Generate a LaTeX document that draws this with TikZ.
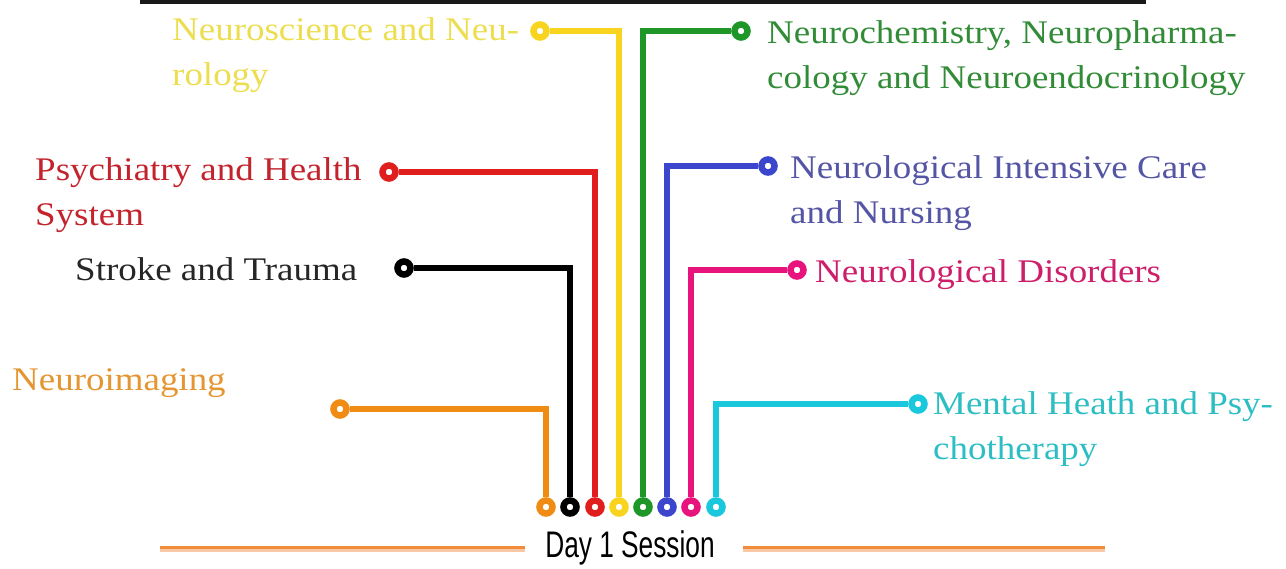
\documentclass[tikz,border=0pt]{standalone}
\usepackage{fontspec}
\setmainfont[FakeStretch=1.12]{Liberation Serif}
\newfontfamily\dayfont[FakeStretch=0.71]{Liberation Sans}
\usetikzlibrary{positioning}

\definecolor{orng}{RGB}{240,140,20}
\definecolor{ylw}{RGB}{248,212,30}
\definecolor{grn}{RGB}{30,150,40}
\definecolor{rd}{RGB}{225,30,30}
\definecolor{blu}{RGB}{60,70,205}
\definecolor{pnk}{RGB}{232,20,125}
\definecolor{cyn}{RGB}{25,200,220}
\definecolor{orngtxt}{RGB}{228,150,50}
\definecolor{ylwtxt}{RGB}{236,222,80}
\definecolor{grntxt}{RGB}{50,140,55}
\definecolor{rdtxt}{RGB}{195,35,45}
\definecolor{blutxt}{RGB}{85,85,165}
\definecolor{pnktxt}{RGB}{205,30,105}
\definecolor{cyntxt}{RGB}{45,190,195}
\definecolor{barup}{RGB}{240,140,60}
\definecolor{barlow}{RGB}{250,200,165}

\tikzset{
  pin/.style={circle,draw=#1,line width=6.5pt,fill=white,inner sep=0pt,minimum size=13pt},
  wire/.style={draw=#1,line width=6pt},
  lbl/.style={text=#1,font=\fontsize{33}{45}\selectfont,align=left,inner sep=0pt,anchor=base west},
}

\begin{document}
\begin{tikzpicture}[x=1pt,y=1pt,yscale=-1]
\useasboundingbox (0,0) rectangle (1286,569);

%top bar
\fill[black!90] (140,0) rectangle (1146,4);

%bottom pins
\node[pin=orng]  (b1) at (546,507) {};
\node[pin=black] (b2) at (570,507) {};
\node[pin=rd]    (b3) at (595,507) {};
\node[pin=ylw]   (b4) at (619,507) {};
\node[pin=grn]   (b5) at (643,507) {};
\node[pin=blu]   (b6) at (667,507) {};
\node[pin=pnk]   (b7) at (691,507) {};
\node[pin=cyn]   (b8) at (716,507) {};

%top pins
\node[pin=orng]  (t1) at (340,409) {};
\node[pin=black] (t2) at (404,268) {};
\node[pin=rd]    (t3) at (389,172) {};
\node[pin=ylw]   (t4) at (540,31) {};
\node[pin=grn]   (t5) at (741,31) {};
\node[pin=blu]   (t6) at (768,166) {};
\node[pin=pnk]   (t7) at (797,270) {};
\node[pin=cyn]   (t8) at (918,404) {};

%wires
\draw[wire=orng]  (b1) |- (t1);
\draw[wire=black] (b2) |- (t2);
\draw[wire=rd]    (b3) |- (t3);
\draw[wire=ylw]   (b4) |- (t4);
\draw[wire=grn]   (b5) |- (t5);
\draw[wire=blu]   (b6) |- (t6);
\draw[wire=pnk]   (b7) |- (t7);
\draw[wire=cyn]   (b8) |- (t8);

% labels (base = last line)
\node[lbl=orngtxt] (neuroimg) at (12,391) {Neuroimaging};
\node[lbl=black!85] (stroke) at (75,281) {Stroke and Trauma};
\node[lbl=rdtxt] (psych) at (35,226) {Psychiatry and Health\\System};
\node[lbl=ylwtxt] (neurosci) at (172,86) {Neuroscience and Neu-\\rology};
\node[lbl=grntxt] (neurochem) at (767,89) {Neurochemistry, Neuropharma-\\cology and Neuroendocrinology};
\node[lbl=blutxt] (intensive) at (790,224) {Neurological Intensive Care\\and Nursing};
\node[lbl=pnktxt] (disorders) at (815,283) {Neurological Disorders};
\node[lbl=cyntxt] (mental) at (933,460) {Mental Heath and Psy-\\chotherapy};

% Day 1 Session
\node[font=\dayfont\fontsize{37}{40}\selectfont,inner sep=0pt] (day) at (630,548) {Day 1 Session};
\coordinate (lineL1) at (160,549);
\coordinate (lineL2) at (525,549);
\coordinate (lineR1) at (743,549);
\coordinate (lineR2) at (1105,549);
\draw[barlow,line width=6pt] (lineL1) -- (lineL2);
\draw[barup,line width=3pt] ([yshift=-1.5pt]lineL1) -- ([yshift=-1.5pt]lineL2);
\draw[barlow,line width=6pt] (lineR1) -- (lineR2);
\draw[barup,line width=3pt] ([yshift=-1.5pt]lineR1) -- ([yshift=-1.5pt]lineR2);

\end{tikzpicture}
\end{document}
